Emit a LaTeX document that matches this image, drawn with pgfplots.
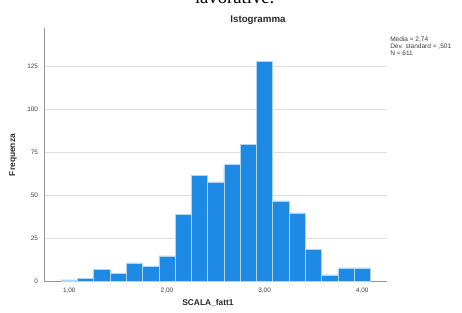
\documentclass[border=0pt]{standalone}
\usepackage{pgfplots}
\pgfplotsset{compat=1.18}
\usepackage{fontspec}
\setmainfont{Liberation Sans}
\newfontfamily\seriffont{Liberation Serif}
\definecolor{barblue}{RGB}{30,138,230}
\definecolor{gridgray}{RGB}{222,222,222}
\definecolor{axisgray}{RGB}{150,150,150}
\definecolor{txtgray}{RGB}{60,60,60}
\begin{document}
\begin{tikzpicture}
\clip (0pt,0pt) rectangle (346.5pt,234pt);
\path[use as bounding box] (0pt,0pt) rectangle (346.5pt,234pt);
\begin{axis}[
  at={(33pt,22.725pt)}, anchor=south west, scale only axis,
  width=257pt, height=190.3pt,
  xmin=0.741, xmax=4.25, ymin=0, ymax=147.5,
  axis x line*=bottom, axis y line*=left,
  axis line style={axisgray, line width=0.6pt, -},
  xtick={1,2,3,4}, xticklabels={{1,00},{2,00},{3,00},{4,00}},
  ytick={0,25,50,75,100,125}, yticklabels={0,25,50,75,100,125},
  major tick length=0pt,
  ymajorgrids, grid style={gridgray, line width=0.6pt},
  ticklabel style={font=\fontsize{4.8}{5.5}\selectfont, text=txtgray},
  yticklabel style={xshift=-1.0pt},
  xticklabel style={yshift=-1.3pt},
  clip=false,
]
\addplot[ybar, bar width=0.16667, fill=barblue, draw=white!65!barblue, line width=0.4pt]
coordinates {
(1.0000,1) (1.1667,2) (1.3333,7) (1.5000,5) (1.6667,11) (1.8333,9)
(2.0000,15) (2.1667,39) (2.3333,62) (2.5000,58) (2.6667,68) (2.8333,80)
(3.0000,128) (3.1667,47) (3.3333,40) (3.5000,19) (3.6667,4) (3.8333,8)
(4.0000,8)
};
\end{axis}
\node[font=\bfseries\fontsize{7.3}{8}\selectfont, text=txtgray!70!black] at (193.5pt,219pt) {Istogramma};
\node[font=\bfseries\fontsize{6.3}{7}\selectfont, text=txtgray!70!black, rotate=90] at (9.75pt,117.75pt) {Frequenza};
\node[font=\bfseries\fontsize{6.3}{7}\selectfont, text=txtgray!70!black] at (156pt,6.75pt) {SCALA\_fatt1};
\node[anchor=north west, inner sep=0pt, align=left, font=\fontsize{4.9}{5.3}\selectfont, text=txtgray] at (292.5pt,206.5pt) {Media = 2,74\\Dev. standard = ,501\\N = 611};
\node[anchor=base, inner sep=0pt, font=\seriffont\fontsize{14}{16}\selectfont] at (176pt,231.75pt) {lavorative.};
\end{tikzpicture}
\end{document}
